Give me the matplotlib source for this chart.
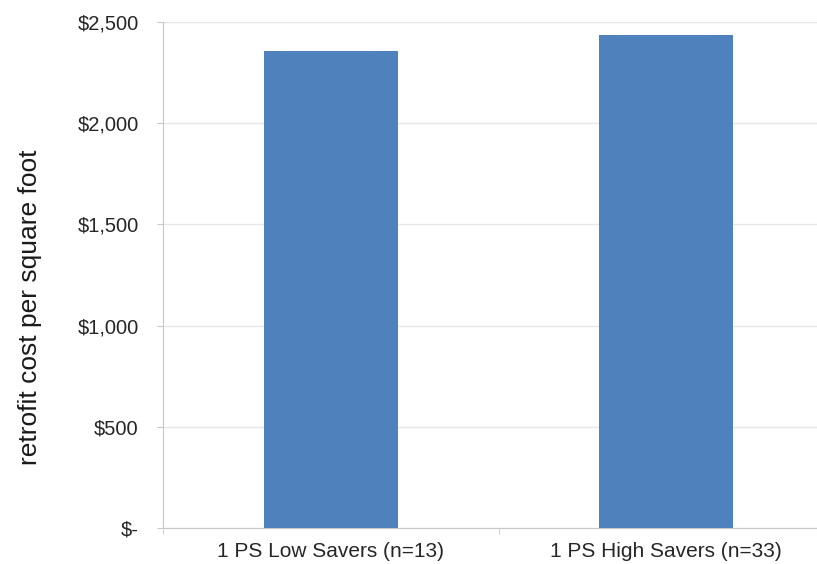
import matplotlib
matplotlib.use('Agg')
import matplotlib.pyplot as plt
from matplotlib.ticker import FuncFormatter

# 資料
categories = ['1 PS Low Savers (n=13)', '1 PS High Savers (n=33)']
costs = [2355, 2435]
y_ticks = [0, 500, 1000, 1500, 2000, 2500]

plt.rcParams['font.family'] = ['Liberation Sans', 'DejaVu Sans']

fig = plt.figure(figsize=(8.17, 5.64), dpi=100)
ax = fig.add_axes([163 / 817, 36 / 564, 671 / 817, 506 / 564])

x = range(len(categories))
ax.bar(x, costs, width=0.40, color='#4F81BD', zorder=3)

ax.set_xlim(-0.5, len(categories) - 0.5)
ax.set_ylim(0, 2500)
ax.set_yticks(y_ticks)


def money(v, pos):
    if v == 0:
        return '$-'
    return f'${v:,.0f}'


ax.yaxis.set_major_formatter(FuncFormatter(money))
ax.set_xticks(list(x))
ax.set_xticklabels(categories, fontsize=15, color='#262626')
ax.tick_params(axis='x', length=0, pad=10)
ax.set_xticks([-0.5, 0.5, 1.5], minor=True)
ax.tick_params(axis='x', which='minor', length=4, color='#c8c8c8')
ax.tick_params(axis='y', length=4.5, color='#c8c8c8', labelsize=14.5,
               labelcolor='#262626', pad=13)

ax.grid(axis='y', color='#e6e6e6', linewidth=1, zorder=0)
for side in ['top', 'right']:
    ax.spines[side].set_visible(False)
for side in ['left', 'bottom']:
    ax.spines[side].set_color('#c8c8c8')

ax.set_ylabel('retrofit cost per square foot', fontsize=19, color='#1a1a1a')
ax.yaxis.set_label_coords(-0.181, 0.437)

fig.savefig('out.png', dpi=100)
